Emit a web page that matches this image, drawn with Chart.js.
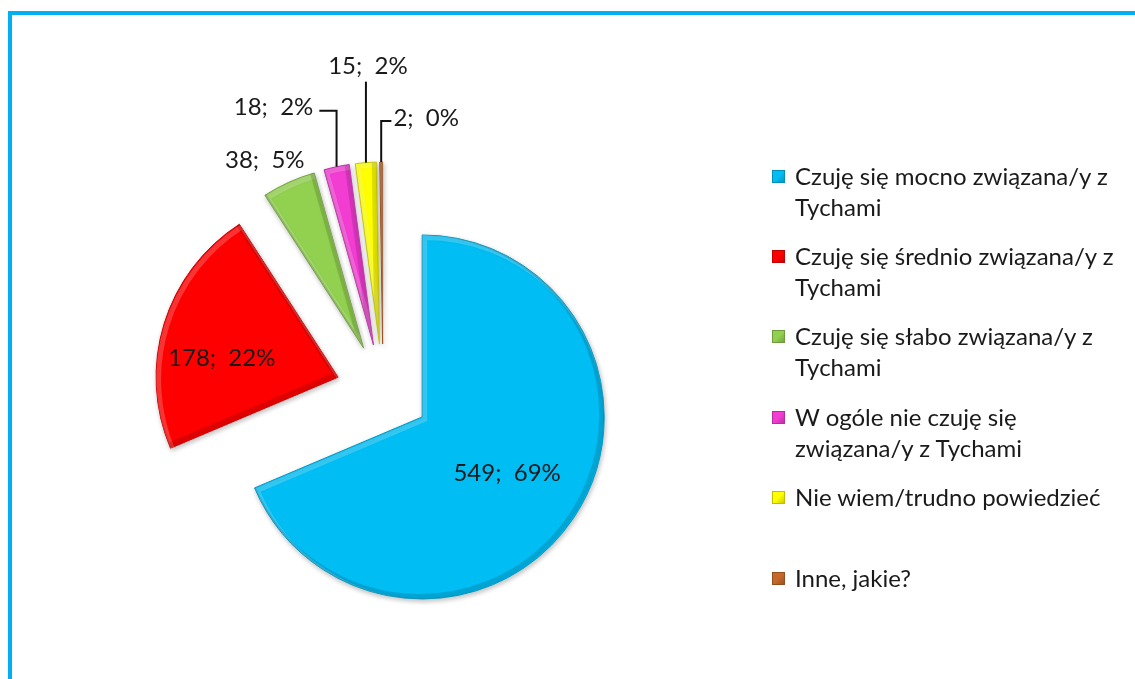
<!DOCTYPE html>
<html lang="pl">
<head>
<meta charset="utf-8">
<title>Związek z Tychami</title>
<script src="https://cdn.jsdelivr.net/npm/chart.js@4.4.1/dist/chart.umd.min.js"></script>
<style>
  html, body { margin: 0; padding: 0; background: #fff; overflow: hidden; }
  body { width: 1135px; height: 679px; position: relative; font-family: Lato, 'Open Sans', sans-serif; }
  #ramka { position: absolute; left: 8px; top: 11px; width: 1300px; height: 900px; border: 4px solid #00B0F0; box-sizing: border-box; }
  #wykres { position: absolute; left: 0; top: 0; }
  #legenda { position: absolute; left: 772px; top: 0; }
  .poz { position: absolute; left: 0; white-space: nowrap; font-size: 24px; line-height: 31px; color: #1a1a1a; }
  .znak { position: absolute; left: 0; top: 10px; width: 13px; height: 13px; box-sizing: border-box; }
  .tekst { position: absolute; left: 23px; top: 0; }
</style>
</head>
<body>
<div id="ramka"></div>
<canvas id="wykres" width="1135" height="679"></canvas>
<div id="legenda"></div>
<script>
// --- DANE ---
// Kategorie (każda linia osobno, tak jak w legendzie)
const kategorie = [
    ['Czuję się mocno związana/y z', 'Tychami'],
    ['Czuję się średnio związana/y z', 'Tychami'],
    ['Czuję się słabo związana/y z', 'Tychami'],
    ['W ogóle nie czuję się', 'związana/y z Tychami'],
    ['Nie wiem/trudno powiedzieć'],
    ['Inne, jakie?']
];
const liczby = [549, 178, 38, 18, 15, 2];
const kolory = ['#00BEF4', '#FF0000', '#92D050', '#F23CD2', '#FFFF00', '#C4692A'];

// --- WYGLĄD ---
const wybuch = 47;        // odsunięcie wycinków od środka
const promien = 182;
const czcionka = '24px Lato, "Open Sans", sans-serif';

// gdzie stoją etykiety danych (względem wierzchołka albo zewnętrznego punktu wycinka)
const ukladEtykiet = [
    { tryb: 'srodek', r: 0.56, dx: 0, dy: 0 },
    { tryb: 'srodek', r: 0.64, dx: -5, dy: 15 },
    { tryb: 'zewnatrz', dx: -24, dy: -22, linia: false },
    { tryb: 'zewnatrz', dx: -63, dy: -59, linia: true },
    { tryb: 'zewnatrz', dx: 2, dy: -96, linia: true },
    { tryb: 'zewnatrz', dx: 45, dy: -44, linia: true }
];

const suma = liczby.reduce((a, b) => a + b, 0);

function przyciemnij(hex, f) {
    const n = parseInt(hex.slice(1), 16);
    const r = Math.round(((n >> 16) & 255) * f);
    const g = Math.round(((n >> 8) & 255) * f);
    const b = Math.round((n & 255) * f);
    return `rgb(${r},${g},${b})`;
}

function sciezka(ctx, luk, dx, dy) {
    ctx.beginPath();
    ctx.moveTo(luk.x + dx, luk.y + dy);
    ctx.arc(luk.x + dx, luk.y + dy, luk.outerRadius, luk.startAngle, luk.endAngle);
    ctx.closePath();
}

// Rysuje wycinki odsunięte od środka, z cieniem i lekkim fazowaniem
const rozsuniecie = {
    id: 'rozsuniecie',
    beforeDatasetDraw(chart, args) {
        const ctx = chart.ctx;
        args.meta.data.forEach(luk => {
            const kat = (luk.startAngle + luk.endAngle) / 2;
            ctx.save();
            ctx.translate(Math.cos(kat) * wybuch, Math.sin(kat) * wybuch);
            ctx.shadowColor = 'rgba(0,0,0,0.25)';
            ctx.shadowBlur = 5;
            ctx.shadowOffsetX = 1;
            ctx.shadowOffsetY = 2;
            luk.draw(ctx);
            ctx.shadowColor = 'transparent';
            sciezka(ctx, luk, 0, 0);
            ctx.clip();
            ctx.lineWidth = 5;
            ctx.strokeStyle = 'rgba(255,255,255,0.2)';
            sciezka(ctx, luk, 2.5, 2.5);
            ctx.stroke();
            ctx.strokeStyle = 'rgba(0,0,0,0.13)';
            sciezka(ctx, luk, -2.5, -2.5);
            ctx.stroke();
            ctx.restore();
        });
        return false;
    }
};

// Etykiety "liczba; procent" i linie odniesienia
const etykiety = {
    id: 'etykiety',
    afterDatasetsDraw(chart) {
        const ctx = chart.ctx;
        const meta = chart.getDatasetMeta(0);
        ctx.save();
        ctx.font = czcionka;
        ctx.fillStyle = '#1a1a1a';
        ctx.strokeStyle = '#111';
        ctx.lineWidth = 2;
        ctx.textAlign = 'center';
        ctx.textBaseline = 'middle';
        meta.data.forEach((luk, i) => {
            const u = ukladEtykiet[i];
            const kat = (luk.startAngle + luk.endAngle) / 2;
            const cx = Math.cos(kat), cy = Math.sin(kat);
            const tekst = `${liczby[i]};  ${Math.round(liczby[i] / suma * 100)}%`;
            const w = ctx.measureText(tekst).width;
            let x, y;
            if (u.tryb === 'srodek') {
                const d = wybuch + luk.outerRadius * u.r;
                x = luk.x + cx * d + u.dx;
                y = luk.y + cy * d + u.dy;
            } else {
                const px = luk.x + cx * (wybuch + luk.outerRadius);
                const py = luk.y + cy * (wybuch + luk.outerRadius);
                x = px + u.dx;
                y = py + u.dy;
                if (u.linia) {
                    ctx.beginPath();
                    ctx.moveTo(px, py);
                    if (Math.abs(u.dx) < w / 2) {
                        ctx.lineTo(px, y + 15);
                    } else {
                        const yl = y + 3;
                        ctx.lineTo(px, yl);
                        ctx.lineTo(u.dx < 0 ? x + w / 2 + 6 : x - w / 2 - 2, yl);
                    }
                    ctx.stroke();
                }
            }
            ctx.fillText(tekst, x, y);
        });
        ctx.restore();
    }
};

// --- LEGENDA (HTML, bo etykiety są w dwóch liniach) ---
function zrobLegende() {
    const box = document.getElementById('legenda');
    kategorie.forEach((linie, i) => {
        const poz = document.createElement('div');
        poz.className = 'poz';
        poz.style.top = (159.5 + 80.4 * i) + 'px';
        const znak = document.createElement('div');
        znak.className = 'znak';
        znak.style.background = `linear-gradient(135deg, ${przyciemnij(kolory[i], 1.0)} 0%, ${kolory[i]} 50%, ${przyciemnij(kolory[i], 0.8)} 100%)`;
        znak.style.border = `1px solid ${przyciemnij(kolory[i], 0.75)}`;
        const tekst = document.createElement('div');
        tekst.className = 'tekst';
        tekst.innerHTML = linie.join('<br>');
        poz.appendChild(znak);
        poz.appendChild(tekst);
        box.appendChild(poz);
    });
}

// --- WYKRES ---
new Chart(document.getElementById('wykres'), {
    type: 'pie',
    data: {
        labels: kategorie.map(l => l.join(' ')),
        datasets: [{
            data: liczby,
            backgroundColor: kolory,
            borderColor: kolory.map(k => przyciemnij(k, 0.8)),
            borderWidth: 1
        }]
    },
    options: {
        responsive: false,
        animation: false,
        radius: promien,
        layout: { padding: { left: 0, right: 369, top: 103, bottom: 0 } },
        plugins: { legend: { display: false }, tooltip: { enabled: false } }
    },
    plugins: [rozsuniecie, etykiety]
});

zrobLegende();
</script>
</body>
</html>
